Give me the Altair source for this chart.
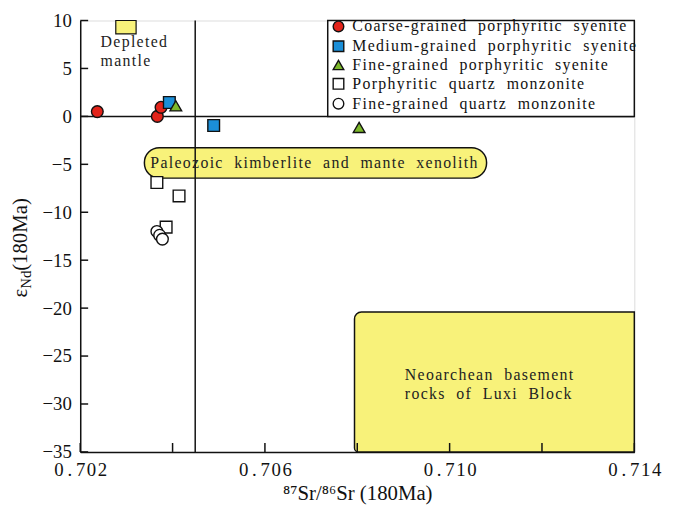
import altair as alt
import pandas as pd

# ---- data ----
groups = ["Coarse-grained porphyritic syenite",
          "Medium-grained porphyritic syenite",
          "Fine-grained porphyritic syenite",
          "Porphyritic quartz monzonite",
          "Fine-grained quartz monzonite"]
shapes = ["circle", "square", "triangle-up", "square", "circle"]
fills = ["#e2231a", "#1b8fd8", "#7cb82a", "#ffffff", "#ffffff"]
strokes = ["#111111"] * 5

coarse_x = [0.70237, 0.70367, 0.70375]
coarse_y = [0.5, 0.0, 0.95]
medium_x = [0.70393, 0.70489]
medium_y = [1.45, -0.95]
fine_x = [0.70407, 0.70804]
fine_y = [1.1, -1.15]
pqm_x = [0.70366, 0.70414, 0.70386]
pqm_y = [-6.9, -8.3, -11.55]
fqm_x = [0.70366, 0.70372, 0.70378]
fqm_y = [-12.0, -12.4, -12.8]

x_ticks = [0.702, 0.704, 0.706, 0.708, 0.710, 0.712, 0.714]
x_labels = [0.702, 0.706, 0.710, 0.714]
y_ticks = [10, 5, 0, -5, -10, -15, -20, -25, -30, -35]

ref_x = [0.70449]   # vertical reference line
ref_y = [0]         # horizontal reference line

# fields: [x1, x2, y1, y2]
depleted_box = [0.70277, 0.70321, 8.6, 10]
kimberlite_box = [0.70339, 0.7108, -3.26, -6.44]
neoarchean_box = [0.70794, 0.714, -20.4, -35]
legend_box = [0.70736, 0.714, 0, 10]

W, H = 560, 436
FONT = "Liberation Serif"
YELLOW = "#f8f27a"
HAIR = "\u200a"


def spaced(s):
    # imitate the wide letter spacing of the original typesetting
    return HAIR.join(s.replace(" ", "  "))


pts = pd.DataFrame({
    "x": coarse_x + medium_x + fine_x + pqm_x + fqm_x,
    "y": coarse_y + medium_y + fine_y + pqm_y + fqm_y,
    "g": [groups[0]] * 3 + [groups[1]] * 2 + [groups[2]] * 2 + [groups[3]] * 3 + [groups[4]] * 3,
    "order": [0] * 3 + [1] * 2 + [2] * 2 + [3] * 3 + [4] * 3,
})

xs = alt.Scale(domain=[0.702, 0.714], nice=False, zero=False)
ys = alt.Scale(domain=[-35, 10], nice=False, zero=False)


def box(vals):
    return pd.DataFrame({"x1": [vals[0]], "x2": [vals[1]], "y1": [vals[2]], "y2": [vals[3]]})


base_x = alt.X("x1:Q", scale=xs, axis=alt.Axis(
    values=x_labels, title="⁸⁷Sr/⁸⁶Sr (180Ma)", grid=False, ticks=False, tickSize=0,
    labelFlush=False, labelOverlap=False,
    labelExpr="'0" + "\u2009" + "." + "\u2009" + "' + join(split(slice(format(datum.value, '.3f'), 2), ''), '" + HAIR + "')",
    labelFont=FONT, labelFontSize=19, labelColor="#111", labelPadding=9,
    titleFont=FONT, titleFontSize=21, titleFontWeight="normal", titleColor="#111",
    titlePadding=3, domainColor="#111", domainWidth=1.5))
base_y = alt.Y("y1:Q", scale=ys, axis=alt.Axis(
    values=y_ticks, title=None, grid=False, ticks=False, tickSize=0,
    labelFont=FONT, labelFontSize=19, labelColor="#111", labelPadding=9,
    domainColor="#111", domainWidth=1.5))

kimb = alt.Chart(box(kimberlite_box)).mark_rect(
    fill=YELLOW, stroke="#111", strokeWidth=1.5, cornerRadius=15
).encode(x=base_x, x2="x2:Q", y=base_y, y2="y2:Q")

neo = alt.Chart(box(neoarchean_box)).mark_rect(
    fill=YELLOW, stroke="#111", strokeWidth=1.5,
    cornerRadiusTopLeft=7, cornerRadiusBottomLeft=4
).encode(x=alt.X("x1:Q", scale=xs), x2="x2:Q", y=alt.Y("y1:Q", scale=ys), y2="y2:Q")

dep = alt.Chart(box(depleted_box)).mark_rect(
    fill=YELLOW, stroke="#111", strokeWidth=1.2
).encode(x=alt.X("x1:Q", scale=xs), x2="x2:Q", y=alt.Y("y1:Q", scale=ys), y2="y2:Q")

vline = alt.Chart(pd.DataFrame({"x": ref_x})).mark_rule(color="#111", strokeWidth=1.5).encode(
    x=alt.X("x:Q", scale=xs))
hline = alt.Chart(pd.DataFrame({"y": ref_y})).mark_rule(color="#111", strokeWidth=1.5).encode(
    y=alt.Y("y:Q", scale=ys))

leg_box = alt.Chart(box(legend_box)).mark_rect(
    fill="white", stroke="#111", strokeWidth=1.5
).encode(x=alt.X("x1:Q", scale=xs), x2="x2:Q", y=alt.Y("y1:Q", scale=ys), y2="y2:Q")

ytick_rules = alt.Chart(pd.DataFrame({"v": y_ticks})).mark_rule(color="#111", strokeWidth=1.5).encode(
    y=alt.Y("v:Q", scale=ys), x=alt.value(0), x2=alt.value(8))
xtick_rules = alt.Chart(pd.DataFrame({"v": x_ticks})).mark_rule(color="#111", strokeWidth=1.5).encode(
    x=alt.X("v:Q", scale=xs), y=alt.value(H), y2=alt.value(H - 9))

labels = pd.DataFrame({
    "x": [0.70244, 0.70706, 0.70903],
    "y": [7.75, -4.87, -26.98],
    "t": [[spaced("Depleted"), spaced("mantle")],
          [spaced("Paleozoic kimberlite and mante xenolith")],
          [spaced("Neoarchean basement"), spaced("rocks of Luxi Block")]],
    "a": ["left", "center", "left"],
})
txt_left = alt.Chart(labels[labels.a == "left"]).mark_text(
    font=FONT, fontSize=16, align="left", baseline="middle", lineHeight=19.5, color="#222"
).encode(x=alt.X("x:Q", scale=xs), y=alt.Y("y:Q", scale=ys), text="t")
txt_center = alt.Chart(labels[labels.a == "center"]).mark_text(
    font=FONT, fontSize=16, align="center", baseline="middle", color="#222"
).encode(x=alt.X("x:Q", scale=xs), y=alt.Y("y:Q", scale=ys), text="t")

leg = alt.Legend(
    title=None, orient="none", legendX=253, legendY=-2, padding=0,
    labelFont=FONT, labelFontSize=16, labelColor="#111", labelOffset=6,
    labelExpr="join(split(replace(datum.label, / /g, '  '), ''), '" + HAIR + "')",
    rowPadding=2, symbolSize=115, symbolStrokeWidth=1.4, symbolStrokeColor="#111",
    labelLimit=400)

points = alt.Chart(pts).mark_point(filled=True, strokeWidth=1.4, opacity=1, size=140).encode(
    x=alt.X("x:Q", scale=xs),
    y=alt.Y("y:Q", scale=ys),
    shape=alt.Shape("g:N", scale=alt.Scale(domain=groups, range=shapes), legend=leg),
    fill=alt.Fill("g:N", scale=alt.Scale(domain=groups, range=fills), legend=leg),
    stroke=alt.Stroke("g:N", scale=alt.Scale(domain=groups, range=strokes), legend=leg),
    order="order:Q",
)

# y-axis title pieces (epsilon with subscript Nd)
yt_eps = alt.Chart(pd.DataFrame({"t": ["ε"]})).mark_text(
    font=FONT, fontSize=21, angle=270, align="left", baseline="middle", color="#111"
).encode(x=alt.value(-60), y=alt.value(280), text="t")
yt_sub = alt.Chart(pd.DataFrame({"t": ["Nd"]})).mark_text(
    font=FONT, fontSize=15, angle=270, align="left", baseline="middle", color="#111"
).encode(x=alt.value(-55), y=alt.value(271), text="t")
yt_rest = alt.Chart(pd.DataFrame({"t": ["(180Ma)"]})).mark_text(
    font=FONT, fontSize=21, angle=270, align="left", baseline="middle", color="#111"
).encode(x=alt.value(-60), y=alt.value(253), text="t")

chart = alt.layer(
    kimb, neo, dep, vline, hline, leg_box, ytick_rules, xtick_rules,
    txt_left, txt_center, points, yt_eps, yt_sub, yt_rest
).properties(
    width=W, height=H,
    autosize=alt.AutoSizeParams(type="none"),
    padding={"left": 73, "top": 10, "right": 31, "bottom": 52},
).configure_view(stroke="#111", strokeWidth=1.5).configure(background="white")

chart.save("out.html", embed_options={"renderer": "svg", "actions": False})
